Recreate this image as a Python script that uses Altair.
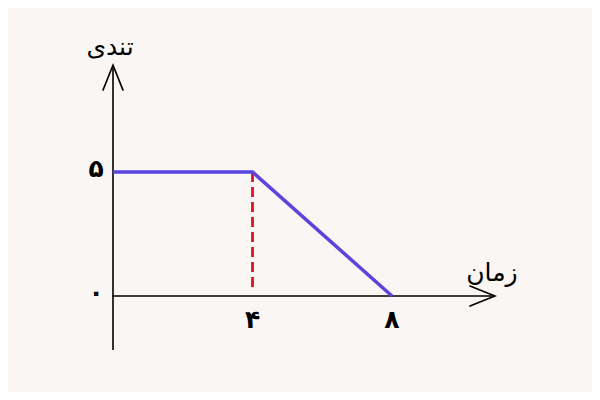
import altair as alt
import pandas as pd

# series
x_vals = [0, 4, 8]
y_vals = [5, 5, 0]
# dashed drop line at x=4
drop_x = [4, 4]
drop_y = [5, 0.25]
# tick labels
x_ticks = [4, 8]
x_tick_labels = ["۴", "۸"]
y_ticks = [0, 5]
y_tick_labels = ["۰", "۵"]
x_title = "زمان"
y_title = "تندی"
# axis extents (data units)
x_axis_extent = [-0.03, 10.95]
y_axis_extent = [-2.18, 9.31]

W, H = 584, 384
xs = alt.Scale(domain=[-3.011, 13.735], nice=False, zero=False)
ys = alt.Scale(domain=[-3.871, 11.613], nice=False, zero=False)

def X(f):
    return alt.X(f, type="quantitative", scale=xs, axis=None)

def Y(f):
    return alt.Y(f, type="quantitative", scale=ys, axis=None)

series = pd.DataFrame({"x": x_vals, "y": y_vals})
drop = pd.DataFrame({"x": drop_x, "y": drop_y})
axes = pd.DataFrame({
    "x0": [x_axis_extent[0], 0],
    "x1": [x_axis_extent[1], 0],
    "y0": [0, y_axis_extent[0]],
    "y1": [0, y_axis_extent[1]],
})
tips = pd.DataFrame({"x": [x_axis_extent[1], 0], "y": [0, y_axis_extent[1]], "ang": [90, 0]})
xt = pd.DataFrame({"x": x_ticks, "y": [0] * len(x_ticks), "t": x_tick_labels})
yt = pd.DataFrame({"x": [0] * len(y_ticks), "y": y_ticks, "t": y_tick_labels})
ytitle = pd.DataFrame({"x": [0], "y": [y_axis_extent[1]], "t": [y_title]})
xtitle = pd.DataFrame({"x": [x_axis_extent[1]], "y": [0], "t": [x_title]})

axis_lines = alt.Chart(axes).mark_rule(color="black", strokeWidth=1.6).encode(
    x=X("x0"), x2="x1", y=Y("y0"), y2="y1"
)

arrow_path = "M -0.8 2 L 0 0 L 0.8 2"
arrows = alt.Chart(tips).mark_point(
    shape=arrow_path, filled=False, color="black", strokeWidth=1.6, size=650, opacity=1
).encode(x=X("x"), y=Y("y"), angle=alt.Angle("ang:Q", scale=None))

drop_line = alt.Chart(drop).mark_line(
    color="#e0141e", strokeWidth=2.8, strokeDash=[10, 5]
).encode(x=X("x"), y=Y("y"))

line = alt.Chart(series).mark_line(
    color="#5b43e0", strokeWidth=3.5
).encode(x=X("x"), y=Y("y"))

font = "DejaVu Sans"
xtick_text = alt.Chart(xt).mark_text(
    font=font, fontSize=25, fontWeight="bold", dy=24, color="black"
).encode(x=X("x"), y=Y("y"), text="t:N")

ytick_text = alt.Chart(yt).mark_text(
    font=font, fontSize=25, fontWeight="bold", dx=-17, dy=-3, color="black"
).encode(x=X("x"), y=Y("y"), text="t:N")

ytitle_text = alt.Chart(ytitle).mark_text(
    font=font, fontSize=25, dx=-3, dy=-18, color="black"
).encode(x=X("x"), y=Y("y"), text="t:N")

xtitle_text = alt.Chart(xtitle).mark_text(
    font=font, fontSize=25, dx=-3, dy=-23, color="black"
).encode(x=X("x"), y=Y("y"), text="t:N")

chart = alt.layer(
    axis_lines, arrows, drop_line, line, xtick_text, ytick_text, ytitle_text, xtitle_text
).properties(
    width=W, height=H, autosize=alt.AutoSizeParams(type="none"), padding=0,
    background="#faf6f3"
).configure_view(stroke=None)

chart.save("out.html", embed_options={"renderer": "svg", "actions": False})
